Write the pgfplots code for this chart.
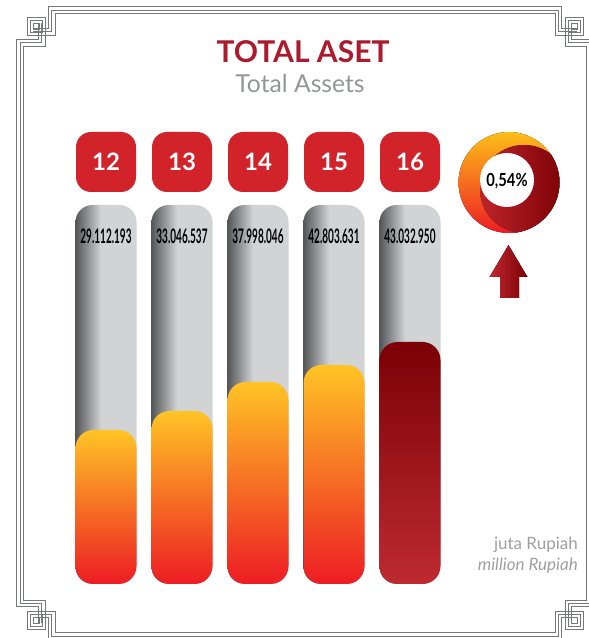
\documentclass[border=0pt]{standalone}
\usepackage{fontspec}
\setmainfont{Lato}
\newfontfamily\condfont[FakeStretch=0.5]{Lato}
\newfontfamily\pctfont[FakeStretch=0.82]{Lato}
\usepackage{pgfplots}
\pgfplotsset{compat=1.18}
\definecolor{framegray}{RGB}{118,119,122}
\definecolor{yearred}{RGB}{210,35,42}
\definecolor{titlered}{RGB}{170,28,45}
\definecolor{subgray}{RGB}{147,149,152}
\definecolor{unitgray}{RGB}{158,159,162}
\definecolor{gdark}{RGB}{85,86,88}
\definecolor{glight}{RGB}{209,211,212}
\definecolor{byel}{RGB}{255,196,37}
\definecolor{bora}{RGB}{243,128,36}
\definecolor{bred}{RGB}{237,28,36}
\definecolor{dtop}{RGB}{122,1,6}
\definecolor{dbot}{RGB}{190,42,49}
\definecolor{ringyel}{RGB}{253,190,24}
\definecolor{ringmid}{RGB}{240,80,36}
\definecolor{ringred}{RGB}{237,28,36}
\definecolor{crimL}{RGB}{190,36,42}
\definecolor{crimR}{RGB}{121,0,5}
\definecolor{arrL}{RGB}{192,40,46}
\definecolor{arrR}{RGB}{122,1,6}
\pgfdeclarehorizontalshading{graybar}{100bp}{color(0bp)=(gdark); color(25bp)=(gdark); color(46bp)=(glight); color(100bp)=(glight)}
\newcommand\cornerlines{%
  \foreach \k in {0,1,2} {%
    \pgfmathsetmacro\d{3.33*\k}%
    \draw (305,6.7+\d) -- (48.3+\d,6.7+\d) -- (48.3+\d,28.3+\d) -- (33.3,28.3+\d);
    \draw (16.7+\d,323) -- (16.7+\d,39.3+\d) -- (38.3+\d,39.3+\d) -- (38.3+\d,23.3);
  }%
  \draw (27,17) rectangle (45,35);
  \draw (30,20) rectangle (42,32);
  \draw (33,23) rectangle (39,29);
}
\begin{document}
\begin{tikzpicture}
\useasboundingbox (0,0) rectangle (589pt,638pt);
\clip (0,0) rectangle (589pt,638pt);
\begin{scope}[x=1pt,y=-1pt,shift={(0pt,638pt)}]
  % frame
  \begin{scope}[draw=framegray, line width=0.75pt]
    \cornerlines
    \begin{scope}[shift={(610,0)}, xscale=-1]\cornerlines\end{scope}
    \begin{scope}[shift={(0,646)}, yscale=-1]\cornerlines\end{scope}
    \begin{scope}[shift={(610,646)}, scale=-1]\cornerlines\end{scope}
  \end{scope}
  % titles
  \node[anchor=base, inner sep=0pt, font=\bfseries\fontsize{30}{30}\selectfont, text=titlered] at (303,62.5) {TOTAL ASET};
  \node[anchor=base, inner sep=0pt, font=\fontsize{24.7}{24.7}\selectfont, text=subgray] at (300,93) {Total Assets};
  % unit
  \node[anchor=base east, inner sep=0pt, font=\fontsize{17}{17}\selectfont, text=unitgray] at (578,550) {juta Rupiah};
  \node[anchor=base east, inner sep=0pt, font=\itshape\fontsize{17}{17}\selectfont, text=unitgray] at (578,571) {million Rupiah};
  % growth ring
  \begin{scope}
    \clip (509,182.5) circle (50.5);
    \fill[top color=ringyel, middle color=ringmid, bottom color=ringred] (509,182.5) circle (50.5);
    \fill[left color=crimL, right color=crimR] (524,189) circle (44);
  \end{scope}
  \fill[white] (507,180) circle (27);
  \node[inner sep=0pt, font=\pctfont\bfseries\fontsize{18}{18}\selectfont] at (507,181) {0,54\%};
  % arrow
  \fill[left color=arrL, right color=arrR] (508.5,245) -- (527.5,277) -- (519,277) -- (519,298) -- (500,298) -- (500,277) -- (489.5,277) -- cycle;
\end{scope}
\begin{axis}[at={(0pt,0pt)}, anchor=south west, scale only axis, width=589pt, height=638pt,
  xmin=0, xmax=589, ymin=-54, ymax=584, hide axis, clip=false]
  % grey tubes (full height)
  \addplot[ybar, bar width=61, bar shift=0pt, draw=none, shading=graybar, shade, rounded corners=17pt] coordinates {(106,379)};
  \addplot[ybar, bar width=61, bar shift=0pt, draw=none, shading=graybar, shade, rounded corners=17pt] coordinates {(182,379)};
  \addplot[ybar, bar width=61, bar shift=0pt, draw=none, shading=graybar, shade, rounded corners=17pt] coordinates {(258,379)};
  \addplot[ybar, bar width=61, bar shift=0pt, draw=none, shading=graybar, shade, rounded corners=17pt] coordinates {(334,379)};
  \addplot[ybar, bar width=61, bar shift=0pt, draw=none, shading=graybar, shade, rounded corners=17pt] coordinates {(410,379)};
  % filled bars
  \addplot[ybar, bar width=61, bar shift=0pt, draw=none, top color=byel, middle color=bora, bottom color=bred, rounded corners=18pt] coordinates {(106,154)};
  \addplot[ybar, bar width=61, bar shift=0pt, draw=none, top color=byel, middle color=bora, bottom color=bred, rounded corners=18pt] coordinates {(182,173)};
  \addplot[ybar, bar width=61, bar shift=0pt, draw=none, top color=byel, middle color=bora, bottom color=bred, rounded corners=18pt] coordinates {(258,202)};
  \addplot[ybar, bar width=61, bar shift=0pt, draw=none, top color=byel, middle color=bora, bottom color=bred, rounded corners=18pt] coordinates {(334,219)};
  \addplot[ybar, bar width=61, bar shift=0pt, draw=none, top color=dtop, bottom color=dbot, rounded corners=18pt] coordinates {(410,242)};
  % value labels
  \addplot[draw=none, mark=none, nodes near coords={\pgfplotspointmeta}, point meta=explicit symbolic,
    every node near coord/.append style={anchor=center, inner sep=0pt, text=black, font=\condfont\bfseries\fontsize{20}{20}\selectfont}]
    table[x=x, y=y, meta=lab] {
x y lab
106 348 29.112.193
182 348 33.046.537
258 348 37.998.046
334 348 42.803.631
410 348 43.032.950
};
  % year boxes
  \addplot[draw=none, mark=none, nodes near coords={\pgfplotspointmeta}, point meta=explicit symbolic,
    every node near coord/.append style={anchor=center, fill=yearred, text=white, rounded corners=15pt, minimum width=60pt, minimum height=60pt, inner sep=0pt, font=\bfseries\fontsize{24}{24}\selectfont}]
    table[x=x, y=y, meta=lab] {
x y lab
106 422 12
182 422 13
258 422 14
334 422 15
410 422 16
};
\end{axis}
\end{tikzpicture}
\end{document}
